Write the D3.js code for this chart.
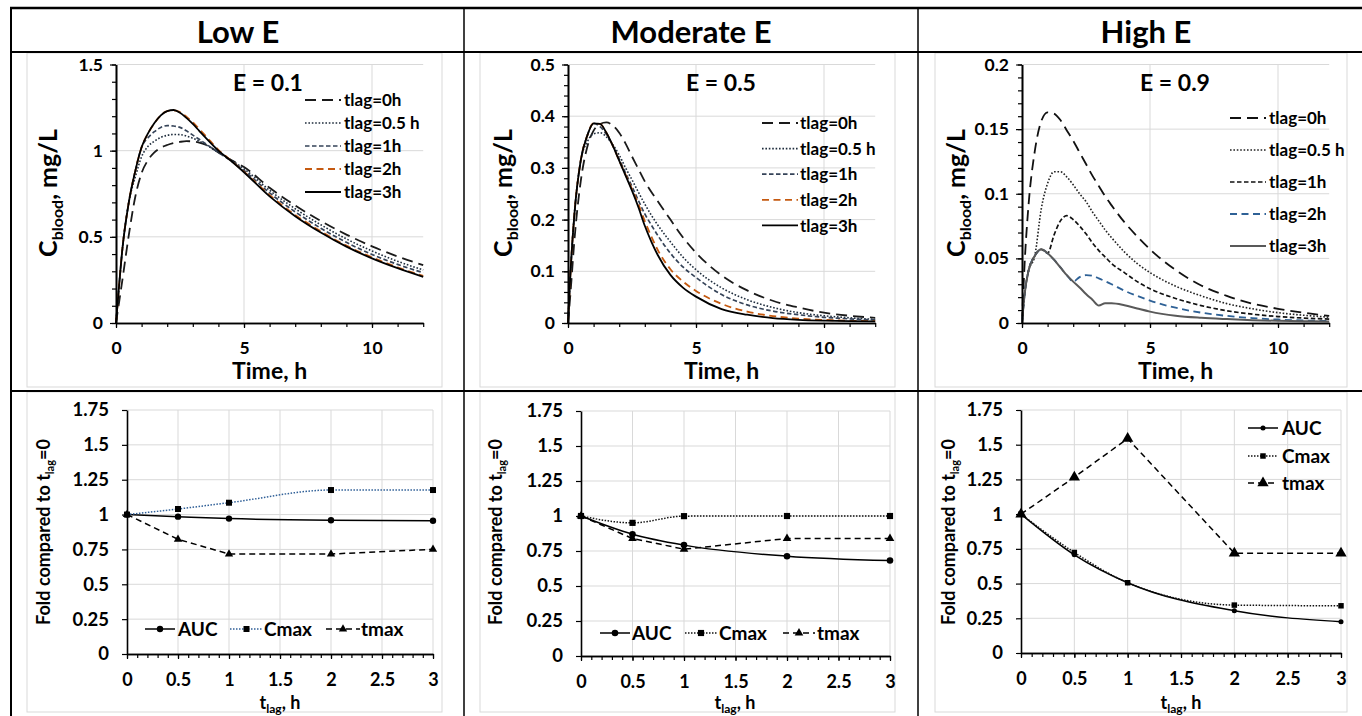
<!DOCTYPE html>
<html><head><meta charset="utf-8">
<script src="https://cdn.jsdelivr.net/npm/d3@7"></script>
<style>
body{margin:0;background:#fff;}
svg text{font-family:Lato,"Open Sans",sans-serif;font-weight:700;fill:#000;}
</style></head><body>
<svg id="chart" width="1362" height="716"></svg>
<script>
// ---------- DATA ----------
const columnTitles = ["Low E", "Moderate E", "High E"];
const extractionLabels = ["E = 0.1", "E = 0.5", "E = 0.9"];
const legendLabels = ["tlag=0h", "tlag=0.5 h", "tlag=1h", "tlag=2h", "tlag=3h"];
const timeHours = [0,0.1,0.25,0.5,0.75,1,1.25,1.5,1.75,2,2.25,2.5,2.75,3,3.25,3.5,4,4.5,5,6,7,8,9,10,11,12];

const lowTlag0  = [0,0.10,0.25,0.51,0.73,0.87,0.945,0.99,1.017,1.033,1.044,1.051,1.055,1.054,1.047,1.035,0.99,0.945,0.905,0.785,0.682,0.592,0.513,0.445,0.386,0.336];
const lowTlag05 = [0,0.18,0.43,0.70,0.845,0.965,1.025,1.055,1.077,1.089,1.094,1.093,1.085,1.072,1.055,1.035,0.99,0.945,0.895,0.77,0.663,0.57,0.488,0.418,0.358,0.308];
const lowTlag1  = [0,0.18,0.43,0.70,0.88,1.02,1.075,1.11,1.135,1.145,1.143,1.135,1.115,1.09,1.066,1.04,0.99,0.94,0.885,0.755,0.645,0.55,0.468,0.398,0.34,0.292];
const lowTlag2  = [0,0.18,0.43,0.70,0.88,1.02,1.10,1.16,1.205,1.23,1.234,1.224,1.197,1.165,1.126,1.086,1.005,0.942,0.878,0.742,0.627,0.532,0.449,0.381,0.323,0.273];
const lowTlag3  = [0,0.18,0.43,0.70,0.88,1.02,1.10,1.16,1.205,1.23,1.236,1.22,1.19,1.155,1.115,1.075,1.00,0.94,0.875,0.735,0.62,0.525,0.443,0.375,0.318,0.268];

const modTlag0  = [0,0.06,0.16,0.275,0.34,0.372,0.385,0.388,0.382,0.368,0.347,0.322,0.298,0.274,0.254,0.236,0.200,0.165,0.136,0.092,0.063,0.043,0.030,0.020,0.014,0.010];
const modTlag05 = [0,0.10,0.21,0.315,0.35,0.366,0.368,0.36,0.345,0.325,0.30,0.277,0.253,0.23,0.209,0.19,0.157,0.127,0.103,0.068,0.045,0.030,0.020,0.014,0.010,0.007];
const modTlag1  = [0,0.10,0.21,0.315,0.362,0.386,0.38,0.365,0.343,0.317,0.29,0.264,0.237,0.211,0.19,0.17,0.135,0.108,0.088,0.055,0.035,0.023,0.016,0.011,0.008,0.006];
const modTlag2  = [0,0.10,0.21,0.315,0.362,0.386,0.385,0.368,0.343,0.314,0.287,0.259,0.23,0.197,0.168,0.142,0.104,0.080,0.062,0.037,0.022,0.0135,0.0085,0.006,0.0045,0.0035];
const modTlag3  = [0,0.10,0.21,0.315,0.362,0.386,0.385,0.368,0.343,0.314,0.285,0.256,0.224,0.188,0.158,0.132,0.093,0.068,0.051,0.027,0.016,0.0095,0.0062,0.0045,0.0035,0.003];

const highTlag0  = [0,0.045,0.09,0.133,0.156,0.163,0.162,0.157,0.149,0.141,0.132,0.123,0.114,0.106,0.098,0.091,0.078,0.067,0.057,0.041,0.029,0.021,0.015,0.011,0.008,0.0055];
const highTlag05 = [0,0.022,0.040,0.052,0.088,0.108,0.117,0.117,0.113,0.107,0.10,0.094,0.086,0.079,0.072,0.066,0.055,0.046,0.039,0.0285,0.021,0.015,0.011,0.008,0.006,0.0045];
const highTlag1  = [0,0.022,0.040,0.052,0.057,0.054,0.068,0.079,0.083,0.080,0.075,0.069,0.062,0.056,0.051,0.046,0.039,0.032,0.0265,0.019,0.0135,0.0095,0.0068,0.005,0.0038,0.003];
const highTlag2  = [0,0.022,0.040,0.052,0.057,0.054,0.049,0.043,0.037,0.032,0.0355,0.037,0.0365,0.0345,0.0323,0.030,0.025,0.021,0.0173,0.0118,0.008,0.0055,0.0038,0.0027,0.002,0.0015];
const highTlag3  = [0,0.022,0.040,0.052,0.057,0.054,0.049,0.043,0.037,0.032,0.0275,0.0225,0.018,0.0135,0.0152,0.0152,0.0137,0.0112,0.0088,0.0056,0.004,0.003,0.0022,0.0017,0.0014,0.0012];

const tlagValues = [0, 0.5, 1, 2, 3];
const foldLabels = ["AUC", "Cmax", "tmax"];
const lowAUC  = [1, 0.985, 0.971, 0.959, 0.956];
const lowCmax = [1, 1.04, 1.085, 1.176, 1.176];
const lowTmax = [1, 0.823, 0.717, 0.717, 0.751];
const modAUC  = [1, 0.870, 0.792, 0.713, 0.682];
const modCmax = [1, 0.951, 0.999, 1.0, 1.0];
const modTmax = [1, 0.839, 0.763, 0.839, 0.839];
const highAUC  = [1, 0.707, 0.506, 0.304, 0.225];
const highCmax = [1, 0.724, 0.506, 0.345, 0.340];
const highTmax = [1, 1.266, 1.544, 0.719, 0.719];

const topYTicks = [[0,0.5,1,1.5],[0,0.1,0.2,0.3,0.4,0.5],[0,0.05,0.1,0.15,0.2]];
const topXTicks = [0,5,10];
const bottomYTicks = [0,0.25,0.5,0.75,1,1.25,1.5,1.75];
const bottomXTicks = [0,0.5,1,1.5,2,2.5,3];

// ---------- DRAW ----------
const svg = d3.select("#chart");
const fmt = d3.format("~g");
const GRID = "#d9d9d9";

// chart-area boxes
[[27,53,415,334],[480,53,415,334],[935,53,412,334],[27,392,415,320],[480,392,415,320],[935,392,412,320]]
  .forEach(([x,y,w,h]) => svg.append("rect").attr("x",x).attr("y",y).attr("width",w).attr("height",h)
    .attr("fill","none").attr("stroke",GRID).attr("stroke-width",1));

// table lines
function tline(x1,y1,x2,y2,w){ svg.append("line").attr("x1",x1).attr("y1",y1).attr("x2",x2).attr("y2",y2).attr("stroke","#000").attr("stroke-width",w); }
tline(10,8,1362,8,2.5);
tline(11,7,11,716,2);
tline(10,52,1362,52,2);
tline(10,391,1362,391,2.2);
tline(464,8,464,716,1.5);
tline(918,8,918,716,1.5);

// headers
[238,691,1146].forEach((cx,i)=> svg.append("text").attr("x",cx).attr("y",43).attr("text-anchor","middle")
  .attr("font-size",31).text(columnTitles[i]));

const stylesLM = [
  {color:"#1a1a1a", dash:"11,6", w:1.8},
  {color:"#1f2d3d", dash:"1.6,1.8", w:1.6},
  {color:"#354358", dash:"4.5,2.5", w:1.7},
  {color:"#c55a11", dash:"7,4.5", w:1.8},
  {color:"#000000", dash:null, w:1.8}
];
const stylesH = [
  {color:"#111111", dash:"11,6", w:1.8},
  {color:"#222222", dash:"1.6,1.8", w:1.6},
  {color:"#111111", dash:"4.5,2.5", w:1.7},
  {color:"#2e6196", dash:"7,4.5", w:1.8},
  {color:"#595959", dash:null, w:2}
];

const topPanels = [
  {left:116, yMax:1.5, minor:0.1, series:[lowTlag0,lowTlag05,lowTlag1,lowTlag2,lowTlag3], styles:stylesLM,
   leg:{x1:305,x2:341,tx:344,y0:100,dy:23}, eX:268, titleX:57},
  {left:568, yMax:0.5, minor:0.02, series:[modTlag0,modTlag05,modTlag1,modTlag2,modTlag3], styles:stylesLM,
   leg:{x1:762,x2:798,tx:800,y0:123,dy:25.6}, eX:721, titleX:512},
  {left:1022, yMax:0.2, minor:0.01, series:[highTlag0,highTlag05,highTlag1,highTlag2,highTlag3], styles:stylesH,
   leg:{x1:1230,x2:1266,tx:1269,y0:118,dy:32}, eX:1175, titleX:965}
];

function styleAxis(g, fs){
  g.attr("font-size", fs);
  g.select(".domain").attr("stroke","#000").attr("stroke-width",1.6);
  g.selectAll(".tick line").attr("stroke","#000").attr("stroke-width",1.2);
}

topPanels.forEach((p,pi)=>{
  const x = d3.scaleLinear().domain([0,12]).range([p.left, p.left+307.2]);
  const y = d3.scaleLinear().domain([0,p.yMax]).range([323,64.5]);
  const g = svg.append("g");
  // grid
  g.selectAll(".hg").data(topYTicks[pi].filter(v=>v>0)).join("line")
    .attr("x1",x(0)).attr("x2",x(12)).attr("y1",d=>y(d)).attr("y2",d=>y(d)).attr("stroke",GRID);
  g.selectAll(".vg").data(topXTicks.filter(v=>v>0)).join("line")
    .attr("x1",d=>x(d)).attr("x2",d=>x(d)).attr("y1",y(0)).attr("y2",y(p.yMax)).attr("stroke",GRID);
  // series
  const ln = d3.line().x((d,i)=>x(timeHours[i])).y(d=>y(d)).curve(d3.curveMonotoneX);
  p.series.forEach((s,si)=>{
    const st = p.styles[si];
    g.append("path").attr("d", ln(s)).attr("fill","none").attr("stroke",st.color)
      .attr("stroke-width",st.w).attr("stroke-dasharray",st.dash);
  });
  // axes
  const nMinor = Math.round(p.yMax/p.minor);
  const yMinor = d3.range(0,nMinor+1).map(i=>+(i*p.minor).toFixed(4));
  g.append("g").attr("transform",`translate(${x(0)},0)`)
    .call(d3.axisLeft(y).tickValues(yMinor).tickSize(4).tickSizeOuter(0).tickFormat(""))
    .call(a=>styleAxis(a,15));
  g.append("g").attr("transform",`translate(${x(0)},0)`)
    .call(d3.axisLeft(y).tickValues(topYTicks[pi]).tickSize(6).tickSizeOuter(0).tickPadding(7).tickFormat(fmt))
    .call(a=>styleAxis(a,17.5));
  g.append("g").attr("transform",`translate(0,${y(0)})`)
    .call(d3.axisBottom(x).tickValues(d3.range(0,13)).tickSize(4).tickSizeOuter(0).tickFormat(""))
    .call(a=>styleAxis(a,16));
  g.append("g").attr("transform",`translate(0,${y(0)})`)
    .call(d3.axisBottom(x).tickValues(topXTicks).tickSize(5).tickSizeOuter(0).tickPadding(14).tickFormat(fmt))
    .call(a=>styleAxis(a,17.5));
  // legend
  legendLabels.forEach((lab,li)=>{
    const st = p.styles[li];
    const ly = p.leg.y0 + li*p.leg.dy;
    g.append("line").attr("x1",p.leg.x1).attr("x2",p.leg.x2).attr("y1",ly).attr("y2",ly)
      .attr("stroke",st.color).attr("stroke-width",st.w).attr("stroke-dasharray",st.dash);
    g.append("text").attr("x",p.leg.tx).attr("y",ly).attr("dy","0.36em").attr("font-size",17).text(lab);
  });
  // E label
  g.append("text").attr("x",p.eX).attr("y",91).attr("text-anchor","middle").attr("font-size",23).text(extractionLabels[pi]);
  // axis titles
  g.append("text").attr("x",(x(0)+x(12))/2).attr("y",379).attr("text-anchor","middle").attr("font-size",23).text("Time, h");
  const yt = g.append("text").attr("transform",`translate(${p.titleX},193) rotate(-90)`).attr("text-anchor","middle").attr("font-size",25);
  yt.append("tspan").text("C");
  yt.append("tspan").attr("font-size",16).attr("dy",6).text("blood");
  yt.append("tspan").attr("dy",-6).text(", mg/L");
});

// ---------- bottom panels ----------
const bottomPanels = [
  {left:127,right:433,top:410,bottom:654, data:[lowAUC,lowCmax,lowTmax], cmaxColor:"#2f5f97",
   leg:[{x1:145,x2:175,tx:178,y:629},{x1:230,x2:263,tx:264,y:629},{x1:326,x2:360,tx:361,y:629}],
   mk:{c:32,s:36,t:30}, titleX:50, xTitleX:280},
  {left:581,right:890,top:411,bottom:656, data:[modAUC,modCmax,modTmax], cmaxColor:"#111",
   leg:[{x1:600,x2:630,tx:632,y:633},{x1:685,x2:717,tx:719,y:633},{x1:783,x2:815,tx:817,y:633}],
   mk:{c:34,s:38,t:32}, titleX:502, xTitleX:735},
  {left:1021,right:1341,top:410,bottom:653, data:[highAUC,highCmax,highTmax], cmaxColor:"#111",
   leg:[{x1:1248,x2:1278,tx:1282,y:428},{x1:1248,x2:1278,tx:1282,y:456},{x1:1248,x2:1278,tx:1282,y:483}],
   mk:{c:20,s:30,t:55}, titleX:955, xTitleX:1181}
];

bottomPanels.forEach((p,pi)=>{
  const x = d3.scaleLinear().domain([0,3]).range([p.left,p.right]);
  const y = d3.scaleLinear().domain([0,1.75]).range([p.bottom,p.top]);
  const g = svg.append("g");
  g.selectAll(".hg").data(bottomYTicks.filter(v=>v>0)).join("line")
    .attr("x1",x(0)).attr("x2",x(3)).attr("y1",d=>y(d)).attr("y2",d=>y(d)).attr("stroke",GRID);
  g.selectAll(".vg").data(bottomXTicks.filter(v=>v>0)).join("line")
    .attr("x1",d=>x(d)).attr("x2",d=>x(d)).attr("y1",y(0)).attr("y2",y(1.75)).attr("stroke",GRID);

  const styles = [
    {color:"#000", dash:null, w:1.5, sym:d3.symbolCircle, size:p.mk.c},
    {color:p.cmaxColor, dash:"1.5,1.5", w:1.5, sym:d3.symbolSquare, size:p.mk.s},
    {color:"#000", dash:"6,4", w:1.5, sym:d3.symbolTriangle, size:p.mk.t}
  ];
  const smooth = d3.line().x((d,i)=>x(tlagValues[i])).y(d=>y(d)).curve(d3.curveMonotoneX);
  const straight = d3.line().x((d,i)=>x(tlagValues[i])).y(d=>y(d));
  p.data.forEach((s,si)=>{
    const st = styles[si];
    g.append("path").attr("d",(si===2?straight:smooth)(s)).attr("fill","none").attr("stroke",st.color)
      .attr("stroke-width",st.w).attr("stroke-dasharray",st.dash);
  });
  p.data.forEach((s,si)=>{
    const st = styles[si];
    g.selectAll(null).data(s).join("path")
      .attr("transform",(d,i)=>`translate(${x(tlagValues[i])},${y(d)})`)
      .attr("d",d3.symbol().type(st.sym).size(st.size)()).attr("fill","#000");
  });
  // axes
  g.append("g").attr("transform",`translate(${x(0)},0)`)
    .call(d3.axisLeft(y).tickValues(bottomYTicks).tickSize(5).tickSizeOuter(0).tickPadding(13).tickFormat(fmt))
    .call(a=>styleAxis(a,18.5));
  g.append("g").attr("transform",`translate(0,${y(0)})`)
    .call(d3.axisBottom(x).tickValues(d3.range(0,31).map(i=>i/10)).tickSize(4).tickSizeOuter(0).tickFormat(""))
    .call(a=>styleAxis(a,17));
  g.append("g").attr("transform",`translate(0,${y(0)})`)
    .call(d3.axisBottom(x).tickValues(bottomXTicks).tickSize(5).tickSizeOuter(0).tickPadding(14).tickFormat(fmt))
    .call(a=>styleAxis(a,18));
  // legend
  foldLabels.forEach((lab,li)=>{
    const st = styles[li], L = p.leg[li];
    g.append("line").attr("x1",L.x1).attr("x2",L.x2).attr("y1",L.y).attr("y2",L.y)
      .attr("stroke",st.color).attr("stroke-width",st.w).attr("stroke-dasharray",st.dash);
    g.append("path").attr("transform",`translate(${(L.x1+L.x2)/2},${L.y})`)
      .attr("d",d3.symbol().type(st.sym).size(st.size)()).attr("fill","#000");
    g.append("text").attr("x",L.tx).attr("y",L.y).attr("dy","0.36em").attr("font-size",19).text(lab);
  });
  // titles
  const xt = g.append("text").attr("x",p.xTitleX).attr("y",709).attr("text-anchor","middle").attr("font-size",18);
  xt.append("tspan").text("t");
  xt.append("tspan").attr("font-size",12).attr("dy",4).text("lag");
  xt.append("tspan").attr("dy",-4).text(", h");
  const yt = g.append("text").attr("transform",`translate(${p.titleX},532) rotate(-90)`).attr("text-anchor","middle").attr("font-size",18);
  yt.append("tspan").text("Fold compared to t");
  yt.append("tspan").attr("font-size",11).attr("dy",4).text("lag");
  yt.append("tspan").attr("dy",-4).text("=0");
});
</script>
</body></html>
